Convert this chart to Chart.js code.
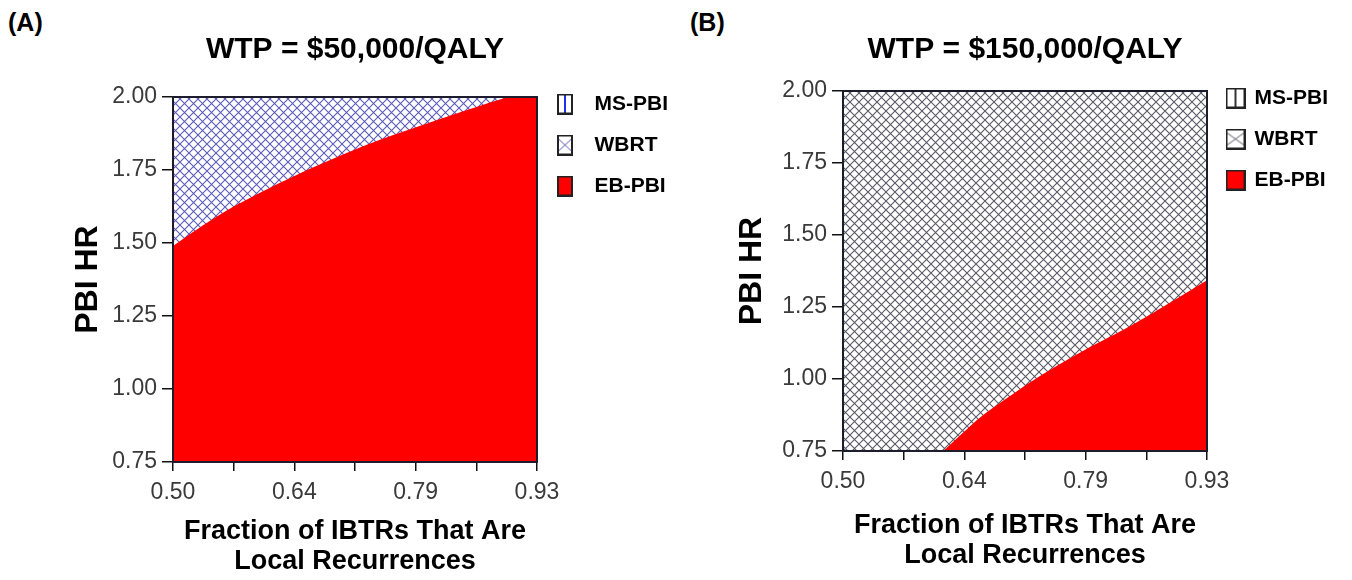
<!DOCTYPE html>
<html>
<head>
<meta charset="utf-8">
<script src="https://cdn.jsdelivr.net/npm/chart.js@4.4.1/dist/chart.umd.min.js"></script>
<style>
  html, body { margin: 0; padding: 0; background: #fff; }
  body { width: 1352px; height: 580px; position: relative; overflow: hidden; font-family: "Liberation Sans", Arial, sans-serif; }
  .panel { position: absolute; width: 676px; height: 580px; }
  .tag { position: absolute; font-weight: bold; font-size: 25px; color: #000; }
</style>
</head>
<body>
<div class="tag" style="left:8px;top:8px">(A)</div>
<div class="tag" style="left:690px;top:8px">(B)</div>
<div class="panel" style="left:0;top:0"><canvas id="chart-a" width="676" height="580"></canvas></div>
<div class="panel" style="left:670px;top:-6px"><canvas id="chart-b" width="676" height="580"></canvas></div>
<script>
// axis ticks (x has minor ticks between the labelled ones)
var xTicks = [0.50, 0.5717, 0.6433, 0.715, 0.7867, 0.8583, 0.93];
var xTickLabels = ['0.50', '', '0.64', '', '0.79', '', '0.93'];
var yTicks = [0.75, 1.00, 1.25, 1.50, 1.75, 2.00];
var seriesNames = ['MS-PBI', 'WBRT', 'EB-PBI'];
var xTitle = ['Fraction of IBTRs That Are', 'Local Recurrences'];
var yTitle = 'PBI HR';

// WBRT covers the whole plane, EB-PBI region is under its boundary curve
var wbrtX = [0.50, 0.93];
var wbrtY = [2.00, 2.00];

// (A) WTP = $50,000/QALY
var titleA = 'WTP = $50,000/QALY';
var ebX_A = [0.50, 0.53, 0.575, 0.654, 0.733, 0.812, 0.85, 0.89, 0.90, 0.93];
var ebY_A = [1.49, 1.55, 1.63, 1.744, 1.841, 1.921, 1.958, 1.995, 2.00, 2.00];

// (B) WTP = $150,000/QALY
var titleB = 'WTP = $150,000/QALY';
var ebX_B = [0.6185, 0.642, 0.666, 0.725, 0.784, 0.843, 0.93];
var ebY_B = [0.75, 0.814, 0.876, 0.996, 1.098, 1.19, 1.343];

Chart.defaults.font.family = '"Liberation Sans", Arial, sans-serif';

function toPoints(xs, ys) {
  return xs.map(function (x, i) { return { x: x, y: ys[i] }; });
}

function hatch(ctx, color) {
  var c = document.createElement('canvas');
  c.width = 9; c.height = 9;
  var g = c.getContext('2d');
  g.fillStyle = '#fff';
  g.fillRect(0, 0, 9, 9);
  g.strokeStyle = color;
  g.lineWidth = 1.1;
  g.beginPath();
  g.moveTo(-1, -1); g.lineTo(10, 10);
  g.moveTo(10, -1); g.lineTo(-1, 10);
  g.stroke();
  return ctx.createPattern(c, 'repeat');
}

// legend swatch, drawn at the left of a (maybe wider) transparent canvas
function icon(kind, w, cw, lineColor) {
  var c = document.createElement('canvas');
  c.width = cw; c.height = 21;
  var g = c.getContext('2d');
  g.fillStyle = kind == 'EB-PBI' ? '#ff0000' : '#fff';
  g.fillRect(1, 1, w - 2, 19);
  g.strokeStyle = lineColor;
  g.lineWidth = 1;
  if (kind == 'MS-PBI') {
    g.lineWidth = 2;
    g.beginPath();
    g.moveTo(w / 2, 1); g.lineTo(w / 2, 20);
    g.stroke();
  }
  if (kind == 'WBRT') {
    g.beginPath();
    g.moveTo(1, 4); g.lineTo(w / 2, 10.5); g.lineTo(w - 1, 4);
    g.moveTo(1, 17); g.lineTo(w / 2, 10.5); g.lineTo(w - 1, 17);
    g.stroke();
  }
  g.strokeStyle = '#222';
  g.lineWidth = 2;
  g.strokeRect(1, 1, w - 2, 19);
  return c;
}

var framePlugin = {
  id: 'frame',
  afterDatasetsDraw: function (chart) {
    var a = chart.chartArea, ctx = chart.ctx;
    ctx.save();
    ctx.strokeStyle = '#1c1c2c';
    ctx.lineWidth = 2;
    ctx.strokeRect(a.left, a.top, a.right - a.left, a.bottom - a.top);
    ctx.restore();
  }
};

function makeChart(id, p) {
  var ctx = document.getElementById(id).getContext('2d');
  var tickFont = { size: 23 };
  return new Chart(ctx, {
    type: 'line',
    data: {
      datasets: [{
        label: seriesNames[0],
        data: [],
        pointStyle: icon('MS-PBI', p.iconW, p.canvasW, p.msColor),
        order: 2
      }, {
        label: seriesNames[1],
        data: toPoints(wbrtX, wbrtY),
        fill: 'start',
        backgroundColor: hatch(ctx, p.hatchColor),
        borderWidth: 0,
        pointRadius: 0,
        pointStyle: icon('WBRT', p.iconW, p.canvasW, p.hatchColor),
        order: 1
      }, {
        label: seriesNames[2],
        data: toPoints(p.ebX, p.ebY),
        fill: 'start',
        backgroundColor: '#ff0000',
        borderWidth: 0,
        pointRadius: 0,
        tension: 0.3,
        pointStyle: icon('EB-PBI', p.iconW, p.canvasW, '#222'),
        order: 0
      }]
    },
    options: {
      responsive: false,
      animation: false,
      devicePixelRatio: 1,
      layout: { padding: { left: 0, right: p.padRight, top: 0, bottom: 0 } },
      scales: {
        x: {
          type: 'linear', min: 0.5, max: 0.93,
          afterBuildTicks: function (s) { s.ticks = xTicks.map(function (v) { return { value: v }; }); },
          afterFit: function (s) { s.height = p.xAxisH; },
          ticks: {
            autoSkip: false, maxRotation: 0, padding: 8, color: '#3a3a3a', font: tickFont,
            callback: function (v, i) { return xTickLabels[i]; }
          },
          grid: { drawOnChartArea: false, tickLength: 9, color: '#111', lineWidth: 1.5 },
          border: { display: false },
          title: {
            display: true, text: xTitle, color: '#000',
            font: { size: 27, weight: 'bold', lineHeight: 30 / 27 },
            padding: { top: 0, bottom: 3 }
          }
        },
        y: {
          min: 0.75, max: 2.0,
          afterBuildTicks: function (s) { s.ticks = yTicks.map(function (v) { return { value: v }; }); },
          afterFit: function (s) { s.width = p.plotLeft; },
          ticks: {
            padding: 5, color: '#3a3a3a', font: tickFont,
            callback: function (v) { return v.toFixed(2); }
          },
          grid: { drawOnChartArea: false, tickLength: 11, color: '#111', lineWidth: 1.5 },
          border: { display: false },
          title: {
            display: true, text: yTitle, color: '#000',
            font: { size: 32, weight: 'bold' },
            padding: { top: p.yTitleOff, bottom: 0 }
          }
        }
      },
      plugins: {
        title: {
          display: true, text: p.title, fullSize: false, color: '#000',
          font: { size: 30, weight: 'bold' },
          padding: { top: p.titleTop, bottom: p.titleBottom }
        },
        legend: {
          position: 'right', align: 'start', fullSize: true, maxWidth: p.legendW,
          title: { display: true, text: '', font: { size: 10 }, padding: { top: 61.5, bottom: 0 } },
          labels: {
            usePointStyle: true, pointStyleWidth: p.pointW, padding: 20, color: '#000',
            font: { size: 21, weight: 'bold' },
            sort: function (a, b) { return a.datasetIndex - b.datasetIndex; }
          }
        },
        tooltip: { enabled: false }
      }
    },
    plugins: [framePlugin]
  });
}

makeChart('chart-a', {
  title: titleA, ebX: ebX_A, ebY: ebY_A,
  hatchColor: '#5c5cb8', msColor: '#2233ee',
  iconW: 16, canvasW: 27, pointW: 27, legendW: 139,
  padRight: 0, plotLeft: 173, xAxisH: 118, yTitleOff: 69,
  titleTop: 32, titleBottom: 29
});

makeChart('chart-b', {
  title: titleB, ebX: ebX_B, ebY: ebY_B,
  hatchColor: '#5a5a66', msColor: '#333',
  iconW: 20, canvasW: 20, pointW: 17, legendW: 139,
  padRight: 8, plotLeft: 173, xAxisH: 123, yTitleOff: 63,
  titleTop: 38, titleBottom: 23
});
</script>
</body>
</html>
